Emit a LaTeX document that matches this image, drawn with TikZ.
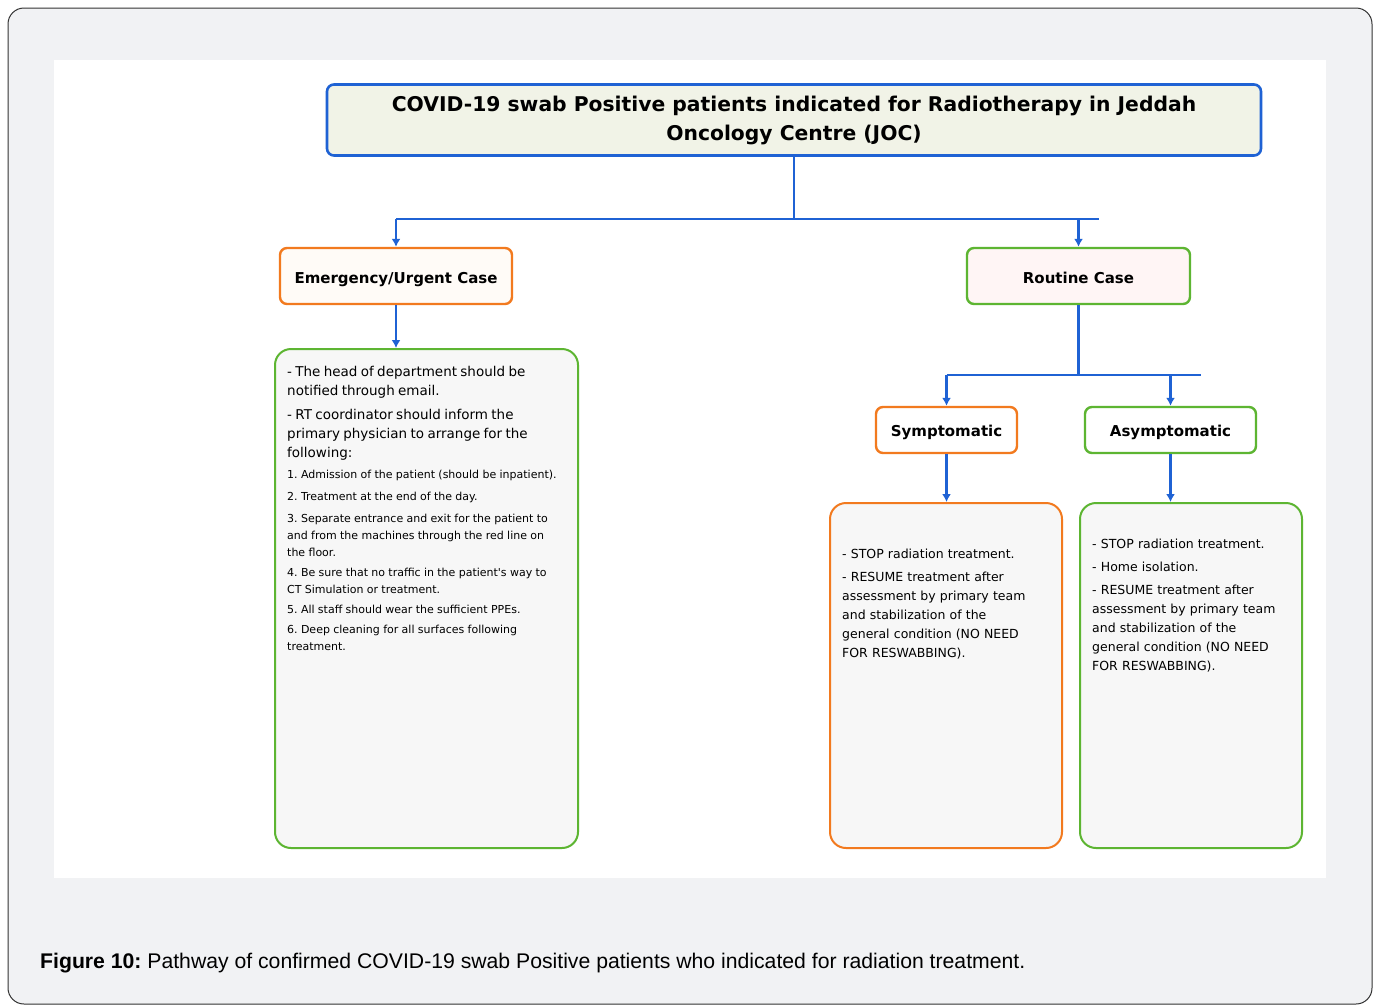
\documentclass[tikz,border=0pt]{standalone}
\usepackage{fontspec}
\setmainfont{DejaVu Sans}
\newfontfamily\capfont{Liberation Sans}
\usepackage{tikz}
\usetikzlibrary{shapes,arrows,arrows.meta,positioning,calc}

\definecolor{flowblue}{HTML}{1F62D4}
\definecolor{boxorange}{HTML}{F27A1F}
\definecolor{boxgreen}{HTML}{5DB532}
\definecolor{pagegray}{HTML}{F1F2F4}
\definecolor{titlefill}{HTML}{F1F3E7}
\definecolor{detailfill}{HTML}{F7F7F7}

\tikzset{
  headbox/.style={draw, line width=2.6pt, rounded corners=7pt, align=center},
  casebox/.style={draw, line width=2.4pt, rounded corners=7pt, text height=14pt, text depth=0pt, font=\fontsize{15}{18}\selectfont\bfseries},
  notebox/.style={draw, line width=2pt, rounded corners=16pt, fill=detailfill},
  notetext/.style={anchor=north west, inner sep=0pt, align=left},
  conn/.style={draw=flowblue, line width=2.4pt},
  connarrow/.style={conn, -{Latex[length=8pt,width=9pt]}}
}

\begin{document}
\frenchspacing
\begin{tikzpicture}[x=1pt, y=-1pt]
  \useasboundingbox (0,0) rectangle (1378,1005);
  % page frame
  \fill[white] (0,0) rectangle (1378,1005);
  \draw[draw=black!80, fill=pagegray, line width=1pt, rounded corners=16pt] (8,8) rectangle (1372,1004);
  \fill[white] (54,60) rectangle (1326,878);

  % top of the pathway
  \node [headbox, draw=flowblue, fill=titlefill, minimum width=934pt, minimum height=71pt,
         font=\fontsize{20.3}{29}\selectfont\bfseries] (title) at (794,120)
    {COVID-19 swab Positive patients indicated for Radiotherapy in Jeddah\\Oncology Centre (JOC)};

  % the two cases
  \node [casebox, draw=boxorange, fill=orange!3, minimum width=232pt, minimum height=56pt] (emergency) at (396,276) {Emergency/Urgent Case};
  \node [casebox, text height=15pt, draw=boxgreen, fill=red!4, minimum width=223pt, minimum height=56pt] (routine) at (1078.5,276) {Routine Case};

  \node [casebox, text height=13pt, draw=boxorange, fill=white, minimum width=141pt, minimum height=46pt] (symptomatic) at (946.5,430) {Symptomatic};
  \node [casebox, text height=13pt, draw=boxgreen, fill=white, minimum width=171pt, minimum height=46pt] (asymptomatic) at (1170.5,430) {Asymptomatic};

  % detail boxes
  \node [notebox, draw=boxgreen, minimum width=303pt, minimum height=499pt] (emergencynotes) at (426.5,598.5) {};
  \node [notebox, draw=boxorange, minimum width=232pt, minimum height=345pt] (symptomaticnotes) at (946,675.5) {};
  \node [notebox, draw=boxgreen, minimum width=222pt, minimum height=345pt] (asymptomaticnotes) at (1191,675.5) {};

  \node [notetext, text width=285pt] (emergencytext) at ($(emergencynotes.north west)+(13,18)$)
    {{\fontsize{13.5}{19}\selectfont - The head of department should be\\notified through email.\par}
     \vspace{5pt}
     {\fontsize{13.5}{19}\selectfont - RT coordinator should inform the\\primary physician to arrange for the\\following:\par}
     \vspace{4pt}
     {\fontsize{11}{17}\selectfont 1. Admission of the patient (should be inpatient).\par\vspace{5pt}
      2. Treatment at the end of the day.\par\vspace{5pt}
      3. Separate entrance and exit for the patient to\\and from the machines through the red line on\\the floor.\par\vspace{3pt}
      4. Be sure that no traffic in the patient\textquotesingle s way to\\CT Simulation or treatment.\par\vspace{3pt}
      5. All staff should wear the sufficient PPEs.\par\vspace{3pt}
      6. Deep cleaning for all surfaces following\\treatment.\par}};

  \node [notetext, text width=215pt, font=\fontsize{12.5}{19}\selectfont] (symptomatictext) at ($(symptomaticnotes.north west)+(13,47)$)
    {- STOP radiation treatment.\par\vspace{4pt}
     - RESUME treatment after\\assessment by primary team\\and stabilization of the\\general condition (NO NEED\\FOR RESWABBING).};

  \node [notetext, text width=205pt, font=\fontsize{12.5}{19}\selectfont] (asymptomatictext) at ($(asymptomaticnotes.north west)+(13,37)$)
    {- STOP radiation treatment.\par\vspace{4pt}
     - Home isolation.\par\vspace{4pt}
     - RESUME treatment after\\assessment by primary team\\and stabilization of the\\general condition (NO NEED\\FOR RESWABBING).};

  % connectors
  \coordinate (splitend) at (1099,219);
  \coordinate (subsplitend) at (1201,375);
  \draw [conn] (title.south) -- (title.south |- splitend);
  \draw [conn] (emergency.north |- splitend) -- (splitend);
  \draw [connarrow] (emergency.north |- splitend) -- (emergency.north);
  \draw [connarrow] (routine.north |- splitend) -- (routine.north);
  \draw [connarrow] (emergency.south) -- (emergency.south |- emergencynotes.north);

  \draw [conn] (routine.south) -- (routine.south |- subsplitend);
  \draw [conn] (symptomatic.north |- subsplitend) -- (subsplitend);
  \draw [connarrow] (symptomatic.north |- subsplitend) -- (symptomatic.north);
  \draw [connarrow] (asymptomatic.north |- subsplitend) -- (asymptomatic.north);
  \draw [connarrow] (symptomatic.south) -- (symptomatic.south |- symptomaticnotes.north);
  \draw [connarrow] (asymptomatic.south) -- (asymptomatic.south |- asymptomaticnotes.north);

  % caption
  \node [anchor=base west, inner sep=0pt, font=\capfont\fontsize{21.2}{24}\selectfont] (caption) at (40,968)
    {\textbf{Figure 10:} Pathway of confirmed COVID-19 swab Positive patients who indicated for radiation treatment.};
\end{tikzpicture}
\end{document}
